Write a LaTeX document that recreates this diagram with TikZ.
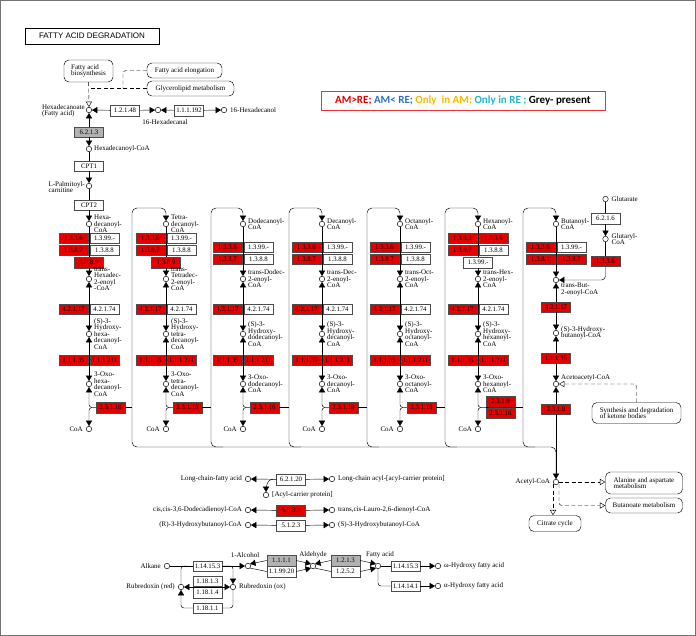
\documentclass[tikz,border=0pt]{standalone}
\usepackage{fontspec}
\setmainfont{Liberation Serif}
\setsansfont{Liberation Sans}
\newfontfamily\legendfont{Carlito}
\usetikzlibrary{arrows,positioning}

\definecolor{keggred}{HTML}{E50000}
\definecolor{amblue}{HTML}{2E6EBA}
\definecolor{amorange}{HTML}{FFB800}
\definecolor{amcyan}{HTML}{1EB6D0}
\newcommand{\lblfont}{\fontsize{7}{6.5}\selectfont}
\newcommand{\enzfont}{\fontsize{6.8}{6.8}\selectfont}

\begin{document}
\begin{tikzpicture}[x=1pt,y=-1pt,>=triangle 60,line width=0.45pt,
                    cpd/.style={circle,draw,fill=white,inner sep=0pt,minimum size=5.5pt},
                    enz/.style={draw=black!70,fill=white,inner sep=0pt,minimum width=29pt,minimum height=10.5pt,font=\enzfont},
                    enzred/.style={enz,fill=keggred},
                    enzgrey/.style={enz,fill=black!30},
                    lbl/.style={inner sep=0pt,align=left,font=\lblfont},
                    mapbox/.style={draw,rounded corners=5pt,inner sep=2pt,align=left,font=\lblfont},
                    link/.style={dash pattern=on 4pt off 2.5pt,-open triangle 60}]

\useasboundingbox (0,0) rectangle (696,636);
\draw[black!55] (0.5,0.5) rectangle (695.5,635.5);

\node[draw,line width=0.9pt,minimum width=134pt,minimum height=16pt,font=\sffamily\fontsize{8}{8}\selectfont] (title) at (92,36) {FATTY ACID DEGRADATION};
\node[draw=keggred!80,minimum width=284pt,minimum height=19pt,font=\legendfont\bfseries\fontsize{11}{11}\selectfont] (legend) at (463,100.5)
  {\color{keggred}AM>RE; \color{amblue}AM< RE; \color{amorange}Only\ \ in AM; \color{amcyan}Only in RE ; \color{black}Grey- present};

% fatty acid activation
\node[mapbox,minimum width=49pt,minimum height=22pt] (bios) at (88.5,71) {Fatty acid\\biosynthesis};
\node[mapbox,minimum width=75pt,minimum height=15pt] (elong) at (184.5,70.5) {Fatty acid elongation};
\node[mapbox,minimum width=87pt,minimum height=15pt] (glyc) at (190.5,88.5) {Glycerolipid metabolism};
\coordinate (dj) at (123,88.5);

\node[cpd] (hexa) at (89,110) {};
\node[lbl,anchor=east] (hexal1) at (85,111) {Hexadecanoate\\(Fatty acid)};
\node[enz] (e121481) at (125,110.5) {1.2.1.48};
\node[cpd] (hexal) at (158,110) {};
\node[lbl] (hexal2) at (165,122) {16-Hexadecanal};
\node[enz] (e111192) at (189,110.5) {1.1.1.192};
\node[cpd] (hexol) at (224,110) {};
\node[lbl,right=3pt of hexol] (hexol1) {16-Hexadecanol};
\node[enzgrey] (e6213) at (89,132) {6.2.1.3};
\node[cpd] (hexcoa) at (89,149) {};
\node[lbl,right=2pt of hexcoa] (hexcoa1) {Hexadecanoyl-CoA};
\node[enz] (cpt1) at (89,166) {CPT1};
\node[cpd] (palm) at (89,186) {};
\node[lbl,anchor=east] (palm1) at (85,187) {L-Palmitoyl-\\carnitine};
\node[enz] (cpt2) at (89,205) {CPT2};

\draw[link] (bios) -- (hexa);
\draw[dash pattern=on 4pt off 2.5pt] (glyc) -- (glyc -| hexa);
\draw[dash pattern=on 4pt off 2.5pt,rounded corners=3pt] (elong) -| (dj);
\draw[->] (e121481) -- (hexa);
\draw[->] (e121481) -- (hexal);
\draw[->] (e111192) -- (hexal);
\draw[->] (e111192) -- (hexol);
\draw[->] (e6213) -- (hexa);
\draw[->] (e6213) -- (hexcoa);
\draw (hexcoa) -- (cpt1);
\draw[->] (cpt1) -- (palm);
\draw (palm) -- (cpt2);

% column 1: C16
\node[cpd] (c1a) at (89,224) {};
\node[lbl,right=2pt of c1a] (c1al) {Hexa-\\decanoyl-\\CoA};
\node[enzred] (e1a1) at (73.5,238) {1.3.3.6};
\node[enz] (e1a2) at (104.5,238) {1.3.99.-};
\node[enzred] (e1a3) at (73.5,250) {1.3.8.7};
\node[enz] (e1a4) at (104.5,250) {1.3.8.8};
\node[enzred] (e1a5) at (89,262.5) {1.3.8.9};
\node[cpd] (c1b) at (89,279) {};
\node[lbl,right=2pt of c1b] (c1bl) {trans-\\Hexadec-\\2-enoyl\\-CoA};
\node[enzred] (e1b1) at (73.5,309) {4.2.1.17};
\node[enz] (e1b2) at (104.5,309) {4.2.1.74};
\node[cpd] (c1c) at (89,334) {};
\node[lbl,right=2pt of c1c] (c1cl) {(S)-3-\\Hydroxy-\\hexa-\\decanoyl-\\CoA};
\node[enzred] (e1c1) at (73.5,360) {1.1.1.35};
\node[enzred] (e1c2) at (104.5,360) {1.1.1.211};
\node[cpd] (c1d) at (89,384) {};
\node[lbl,right=2pt of c1d] (c1dl) {3-Oxo-\\hexa-\\decanoyl-\\CoA};
\node[enzred] (e1d) at (110.5,407.5) {2.3.1.16};
\node[cpd] (coa1) at (89,429) {};
\node[lbl,left=3pt of coa1] (coa1l) {CoA};
\draw[->] (cpt2) -- (c1a);

% column 2: C14
\node[cpd] (c2a) at (166,224) {};
\node[lbl,right=2pt of c2a] (c2al) {Tetra-\\decanoyl-\\CoA};
\node[enzred] (e2a1) at (150.5,238) {1.3.3.6};
\node[enz] (e2a2) at (181.5,238) {1.3.99.-};
\node[enzred] (e2a3) at (150.5,250) {1.3.8.7};
\node[enz] (e2a4) at (181.5,250) {1.3.8.8};
\node[enzred] (e2a5) at (166,262.5) {1.3.8.9};
\node[cpd] (c2b) at (166,279) {};
\node[lbl,right=2pt of c2b] (c2bl) {trans-\\Tetradec-\\2-enoyl-\\CoA};
\node[enzred] (e2b1) at (150.5,309) {4.2.1.17};
\node[enz] (e2b2) at (181.5,309) {4.2.1.74};
\node[cpd] (c2c) at (166,334) {};
\node[lbl,right=2pt of c2c] (c2cl) {(S)-3-\\Hydroxy-\\tetra-\\decanoyl-\\CoA};
\node[enzred] (e2c1) at (150.5,360) {1.1.1.35};
\node[enzred] (e2c2) at (181.5,360) {1.1.1.211};
\node[cpd] (c2d) at (166,384) {};
\node[lbl,right=2pt of c2d] (c2dl) {3-Oxo-\\tetra-\\decanoyl-\\CoA};
\node[enzred] (e2d) at (187.5,407.5) {2.3.1.16};
\node[cpd] (coa2) at (166,429) {};
\node[lbl,left=3pt of coa2] (coa2l) {CoA};

% column 3: C12
\node[cpd] (c3a) at (243,224) {};
\node[lbl,right=2pt of c3a] (c3al) {Dodecanoyl-\\CoA};
\node[enzred] (e3a1) at (227.5,247) {1.3.3.6};
\node[enz] (e3a2) at (258.5,247) {1.3.99.-};
\node[enzred] (e3a3) at (227.5,259) {1.3.8.7};
\node[enz] (e3a4) at (258.5,259) {1.3.8.8};
\node[cpd] (c3b) at (243,279) {};
\node[lbl,right=2pt of c3b] (c3bl) {trans-Dodec-\\2-enoyl-\\CoA};
\node[enzred] (e3b1) at (227.5,309) {4.2.1.17};
\node[enz] (e3b2) at (258.5,309) {4.2.1.74};
\node[cpd] (c3c) at (243,334) {};
\node[lbl,right=2pt of c3c] (c3cl) {(S)-3-\\Hydroxy-\\dodecanoyl-\\CoA};
\node[enzred] (e3c1) at (227.5,360) {1.1.1.35};
\node[enzred] (e3c2) at (258.5,360) {1.1.1.211};
\node[cpd] (c3d) at (243,384) {};
\node[lbl,right=2pt of c3d] (c3dl) {3-Oxo-\\dodecanoyl-\\CoA};
\node[enzred] (e3d) at (264.5,407.5) {2.3.1.16};
\node[cpd] (coa3) at (243,429) {};
\node[lbl,left=3pt of coa3] (coa3l) {CoA};

% column 4: C10
\node[cpd] (c4a) at (322,224) {};
\node[lbl,right=2pt of c4a] (c4al) {Decanoyl-\\CoA};
\node[enzred] (e4a1) at (306.5,247) {1.3.3.6};
\node[enz] (e4a2) at (337.5,247) {1.3.99.-};
\node[enzred] (e4a3) at (306.5,259) {1.3.8.7};
\node[enz] (e4a4) at (337.5,259) {1.3.8.8};
\node[cpd] (c4b) at (322,279) {};
\node[lbl,right=2pt of c4b] (c4bl) {trans-Dec-\\2-enoyl-\\CoA};
\node[enzred] (e4b1) at (306.5,309) {4.2.1.17};
\node[enz] (e4b2) at (337.5,309) {4.2.1.74};
\node[cpd] (c4c) at (322,334) {};
\node[lbl,right=2pt of c4c] (c4cl) {(S)-3-\\Hydroxy-\\decanoyl-\\CoA};
\node[enzred] (e4c1) at (306.5,360) {1.1.1.35};
\node[enzred] (e4c2) at (337.5,360) {1.1.1.211};
\node[cpd] (c4d) at (322,384) {};
\node[lbl,right=2pt of c4d] (c4dl) {3-Oxo-\\decanoyl-\\CoA};
\node[enzred] (e4d) at (343.5,407.5) {2.3.1.16};
\node[cpd] (coa4) at (322,429) {};
\node[lbl,left=3pt of coa4] (coa4l) {CoA};

% column 5: C8
\node[cpd] (c5a) at (400,224) {};
\node[lbl,right=2pt of c5a] (c5al) {Octanoyl-\\CoA};
\node[enzred] (e5a1) at (384.5,247) {1.3.3.6};
\node[enz] (e5a2) at (415.5,247) {1.3.99.-};
\node[enzred] (e5a3) at (384.5,259) {1.3.8.7};
\node[enz] (e5a4) at (415.5,259) {1.3.8.8};
\node[cpd] (c5b) at (400,279) {};
\node[lbl,right=2pt of c5b] (c5bl) {trans-Oct-\\2-enoyl-\\CoA};
\node[enzred] (e5b1) at (384.5,309) {4.2.1.17};
\node[enz] (e5b2) at (415.5,309) {4.2.1.74};
\node[cpd] (c5c) at (400,334) {};
\node[lbl,right=2pt of c5c] (c5cl) {(S)-3-\\Hydroxy-\\octanoyl-\\CoA};
\node[enzred] (e5c1) at (384.5,360) {1.1.1.35};
\node[enzred] (e5c2) at (415.5,360) {1.1.1.211};
\node[cpd] (c5d) at (400,384) {};
\node[lbl,right=2pt of c5d] (c5dl) {3-Oxo-\\octanoyl-\\CoA};
\node[enzred] (e5d) at (421.5,407.5) {2.3.1.16};
\node[cpd] (coa5) at (400,429) {};
\node[lbl,left=3pt of coa5] (coa5l) {CoA};

% column 6: C6
\node[cpd] (c6a) at (478,224) {};
\node[lbl,right=2pt of c6a] (c6al) {Hexanoyl-\\CoA};
\node[enzred] (e6a1) at (462.5,238) {1.3.8.1};
\node[enzred] (e6a2) at (493.5,238) {1.3.3.6};
\node[enzred] (e6a3) at (462.5,250) {1.3.8.7};
\node[enz] (e6a4) at (493.5,250) {1.3.8.8};
\node[enz] (e6a5) at (478,262.5) {1.3.99.-};
\node[cpd] (c6b) at (478,279) {};
\node[lbl,right=2pt of c6b] (c6bl) {trans-Hex-\\2-enoyl-\\CoA};
\node[enzred] (e6b1) at (462.5,309) {4.2.1.17};
\node[enz] (e6b2) at (493.5,309) {4.2.1.74};
\node[cpd] (c6c) at (478,334) {};
\node[lbl,right=2pt of c6c] (c6cl) {(S)-3-\\Hydroxy-\\hexanoyl-\\CoA};
\node[enzred] (e6c1) at (462.5,360) {1.1.1.35};
\node[enzred] (e6c2) at (493.5,360) {1.1.1.211};
\node[cpd] (c6d) at (478,384) {};
\node[lbl,right=2pt of c6d] (c6dl) {3-Oxo-\\hexanoyl-\\CoA};
\node[enzred] (e6d1) at (500.5,401.75) {2.3.1.9};
\node[enzred] (e6d2) at (500.5,413.25) {2.3.1.16};
\coordinate (j6) at (486,407.5);
\node[cpd] (coa6) at (478,429) {};
\node[lbl,left=3pt of coa6] (coa6l) {CoA};

% column 7: C4
\node[cpd] (c7a) at (556,224) {};
\node[lbl,right=2pt of c7a] (c7al) {Butanoyl-\\CoA};
\node[enzred] (e7a1) at (540.5,247) {1.3.3.6};
\node[enz] (e7a2) at (571.5,247) {1.3.99.-};
\node[enzred] (e7a3) at (540.5,259) {1.3.8.1};
\node[enzred] (e7a4) at (571.5,259) {1.3.8.7};
\node[cpd] (c7b) at (556,280) {};
\node[lbl,anchor=north west] (c7bl) at (561,283) {trans-But-\\2-enoyl-CoA};
\node[enzred] (e7b) at (556,307) {4.2.1.17};
\node[cpd] (c7c) at (556,333) {};
\node[lbl,right=2pt of c7c] (c7cl) {(S)-3-Hydroxy-\\butanoyl-CoA};
\node[enzred] (e7c) at (556,358) {1.1.1.35};
\node[cpd] (c7d) at (556,384) {};
\node[lbl,anchor=west] (c7dl) at (561,378) {Acetoacetyl-CoA};
\node[enzred] (e7d) at (556,409) {2.3.1.9};
\node[cpd] (acetyl) at (556,482) {};
\node[lbl,left=3pt of acetyl] (acetyll) {Acetyl-CoA};

\node[cpd] (glut) at (605.5,199) {};
\node[lbl,right=3pt of glut] (glutl) {Glutarate};
\node[enz] (e6216) at (605.5,218.5) {6.2.1.6};
\node[cpd] (glutcoa) at (605.5,239) {};
\node[lbl,right=3pt of glutcoa] (glutcoal) {Glutaryl-\\CoA};
\node[enzred] (e1336g) at (605.5,261) {1.3.3.6};

\node[mapbox,minimum width=89pt,minimum height=21pt] (keto) at (636.5,413) {Synthesis and degradation\\of ketone bodies};
\node[mapbox,minimum width=77pt,minimum height=22pt] (alasp) at (644,483) {Alanine and aspartate\\metabolism};
\node[mapbox,minimum width=77pt,minimum height=15pt] (butm) at (644,505.5) {Butanoate metabolism};
\node[mapbox,minimum width=52pt,minimum height=16pt] (citr) at (555,523.5) {Citrate cycle};
\coordinate (acr) at (559,484);
\coordinate (acl) at (553,484);

% spiral connectors
\coordinate (t2) at (166,208);
\coordinate (t3) at (243,208);
\coordinate (t4) at (322,208);
\coordinate (t5) at (400,208);
\coordinate (t6) at (478,208);
\coordinate (t7) at (556,208);
\coordinate (b1) at (132,447);
\coordinate (b2) at (211,447); \coordinate (b2r) at (223,447);
\coordinate (b3) at (289,447); \coordinate (b3r) at (301,447);
\coordinate (b4) at (367,447); \coordinate (b4r) at (379,447);
\coordinate (b5) at (445,447); \coordinate (b5r) at (457,447);
\coordinate (b6) at (523,447); \coordinate (b6r) at (535,447);
\coordinate (b7) at (556,447);

\draw[<-,rounded corners=5pt] (c2a) -- (t2) -| (b1) -- (b7) -- (acetyl);
\draw[<-,rounded corners=5pt] (c3a) -- (t3) -| (b2) -- (b2r);
\draw[<-,rounded corners=5pt] (c4a) -- (t4) -| (b3) -- (b3r);
\draw[<-,rounded corners=5pt] (c5a) -- (t5) -| (b4) -- (b4r);
\draw[<-,rounded corners=5pt] (c6a) -- (t6) -| (b5) -- (b5r);
\draw[<-,rounded corners=5pt] (c7a) -- (t7) -| (b6) -- (b6r);

% beta-oxidation steps
\draw (c1a) -- (e1a5);
\draw[->] (e1a5) -- (c1b);
\draw (c2a) -- (e2a5);
\draw[->] (e2a5) -- (c2b);
\draw[->] (c3a) -- (c3b);
\draw[->] (c4a) -- (c4b);
\draw[->] (c5a) -- (c5b);
\draw (c6a) -- (e6a5);
\draw[->] (e6a5) -- (c6b);
\draw[->] (c7a) -- (c7b);

\draw[<->] (c1b) -- (c1c);
\draw[<->] (c1c) -- (c1d);
\draw[<->] (c2b) -- (c2c);
\draw[<->] (c2c) -- (c2d);
\draw[<->] (c3b) -- (c3c);
\draw[<->] (c3c) -- (c3d);
\draw[<->] (c4b) -- (c4c);
\draw[<->] (c4c) -- (c4d);
\draw[<->] (c5b) -- (c5c);
\draw[<->] (c5c) -- (c5d);
\draw[<->] (c6b) -- (c6c);
\draw[<->] (c6c) -- (c6d);
\draw[->] (e7b) -- (c7b);
\draw[->] (e7b) -- (c7c);
\draw[->] (e7c) -- (c7c);
\draw[->] (e7c) -- (c7d);
\draw[->] (e7d) -- (c7d);
\draw[->] (e7d) -- (acetyl);

\draw[->,rounded corners=3pt] (e1d) -| (c1d);
\draw[->,rounded corners=3pt] (e1d) -| (coa1);
\draw (e1d) -- (e1d -| b1);
\draw[->,rounded corners=3pt] (e2d) -| (c2d);
\draw[->,rounded corners=3pt] (e2d) -| (coa2);
\draw (e2d) -- (e2d -| b2);
\draw[->,rounded corners=3pt] (e3d) -| (c3d);
\draw[->,rounded corners=3pt] (e3d) -| (coa3);
\draw (e3d) -- (e3d -| b3);
\draw[->,rounded corners=3pt] (e4d) -| (c4d);
\draw[->,rounded corners=3pt] (e4d) -| (coa4);
\draw (e4d) -- (e4d -| b4);
\draw[->,rounded corners=3pt] (e5d) -| (c5d);
\draw[->,rounded corners=3pt] (e5d) -| (coa5);
\draw (e5d) -- (e5d -| b5);
\draw[->,rounded corners=3pt] (j6) -| (c6d);
\draw[->,rounded corners=3pt] (j6) -| (coa6);
\draw (j6) -- (j6 -| b6);

\draw (glut) -- (e6216);
\draw[->] (e6216) -- (glutcoa);
\draw (glutcoa) -- (e1336g);
\draw[->,rounded corners=4pt] (e1336g) |- (c7b);

\draw[link,rounded corners=3pt] (keto) |- (c7d);
\draw[link] (acetyl) -- (acetyl -| alasp.west);
\draw[link,rounded corners=3pt] (acr) |- (butm);
\draw[link] (acl) -- (acl |- citr.north);

% other reactions
\node[cpd] (lcfa) at (248,479) {};
\node[lbl,left=3pt of lcfa] (lcfal) {Long-chain-fatty acid};
\node[enz] (e62120) at (291,479.5) {6.2.1.20};
\node[cpd] (lcacp) at (332,479) {};
\node[lbl,right=3pt of lcacp] (lcacpl) {Long-chain acyl-[acyl-carrier protein]};
\node[cpd] (acp) at (266,495) {};
\node[lbl,right=3pt of acp] (acpl) {[Acyl-carrier protein]};
\coordinate (acpj) at (273,479);
\draw[->] (e62120) -- (lcfa);
\draw[->] (e62120) -- (lcacp);
\draw[->] (acpj) to[out=180,in=90] (acp);

\node[cpd] (ddcoa) at (248,510) {};
\node[lbl,left=3pt of ddcoa] (ddcoal) {cis,cis-3,6-Dodecadienoyl-CoA};
\node[enzred] (e5338) at (291,510.5) {5.3.3.8};
\node[cpd] (lauro) at (332,510) {};
\node[lbl,right=3pt of lauro] (laurol) {trans,cis-Lauro-2,6-dienoyl-CoA};
\draw[->] (e5338) -- (ddcoa);
\draw[->] (e5338) -- (lauro);

\node[cpd] (rhb) at (248,525) {};
\node[lbl,left=3pt of rhb] (rhbl) {(R)-3-Hydroxybutanoyl-CoA};
\node[enz] (e5123) at (291,525.5) {5.1.2.3};
\node[cpd] (shb) at (332,525) {};
\node[lbl,right=3pt of shb] (shbl) {(S)-3-Hydroxybutanoyl-CoA};
\draw[->] (e5123) -- (rhb);
\draw[->] (e5123) -- (shb);

% alkane oxidation
\node[cpd] (alkane) at (167,566) {};
\node[lbl,left=3pt of alkane] (alkanel) {Alkane};
\node[enz] (e114153a) at (207.5,566) {1.14.15.3};
\node[cpd] (alc) at (248,566) {};
\node[lbl] (alcl) at (245,555) {1-Alcohol};
\node[cpd] (rubred) at (181,587) {};
\node[lbl,left=3pt of rubred] (rubredl) {Rubredoxin (red)};
\node[cpd] (rubox) at (233,587) {};
\node[lbl,right=3pt of rubox] (rubox1) {Rubredoxin (ox)};
\node[enz] (e11813) at (207.5,581.25) {1.18.1.3};
\node[enz] (e11814) at (207.5,592.75) {1.18.1.4};
\node[enz] (e11811) at (207.5,608) {1.18.1.1};
\coordinate (lj1) at (187,566);

\draw (alkane) -- (e114153a);
\draw[->] (e114153a) -- (alc);
\draw[rounded corners=3pt] (lj1) -| (rubred);
\draw[->,rounded corners=3pt] (e114153a) -| (rubox);
\draw[->,rounded corners=3pt] (e11811) -| (rubred);
\draw[rounded corners=3pt] (e11811) -| (rubox);
\draw[<->] (rubred) -- (rubox);

\node[enzgrey] (e1111) at (281.5,560.5) {1.1.1.1};
\node[enz] (e119920) at (281.5,571.5) {1.1.99.20};
\node[cpd] (ald) at (313,566) {};
\node[lbl] (aldl) at (313,555) {Aldehyde};
\node[enzgrey] (e1213) at (345.5,560.5) {1.2.1.3};
\node[enz] (e1252) at (345.5,571.5) {1.2.5.2};
\node[cpd] (fa) at (378,566) {};
\node[lbl] (fal) at (380,555) {Fatty acid};
\node[enz] (e114153b) at (405.5,566) {1.14.15.3};
\node[cpd] (ohfa) at (438,566) {};
\node[lbl,right=3pt of ohfa] (ohfal) {ω-Hydroxy fatty acid};
\node[enz] (e1141411) at (405.5,586) {1.14.14.1};
\node[cpd] (ahfa) at (438,586) {};
\node[lbl,right=3pt of ahfa] (ahfal) {α-Hydroxy fatty acid};

\draw[->] (e1111.west) -- (alc.north east);
\draw (alc.south east) -- (e119920.west);
\draw[->] (e1111.east) -- (ald.north west);
\draw[->] (e119920.east) -- (ald.south west);
\draw[->] (e1213.west) -- (ald.north east);
\draw (ald.south east) -- (e1252.west);
\draw[->] (e1213.east) -- (fa.north west);
\draw[->] (e1252.east) -- (fa.south west);
\draw (fa) -- (e114153b);
\draw[->] (e114153b) -- (ohfa);
\draw[rounded corners=3pt] (fa) |- (e1141411);
\draw[->] (e1141411) -- (ahfa);

\end{tikzpicture}
\end{document}
